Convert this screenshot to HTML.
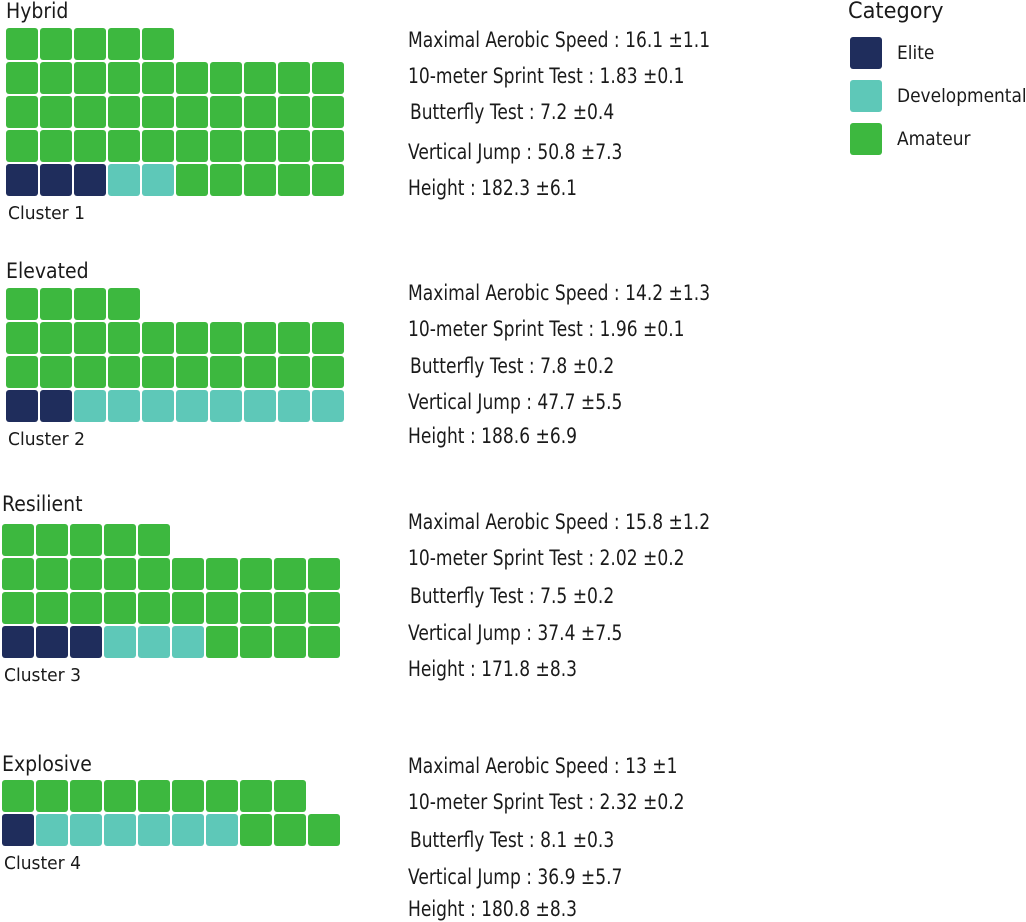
<!DOCTYPE html>
<html><head><meta charset="utf-8">
<style>
html,body{margin:0;padding:0;background:#fff;}
body{width:1026px;height:922px;position:relative;overflow:hidden;font-family:"DejaVu Sans","Liberation Sans",sans-serif;color:#1a1a1a;}
.t{position:absolute;white-space:nowrap;line-height:1;transform-origin:0 0;}
.cell{position:absolute;border-radius:3px;}
</style></head>
<body>
<div id="root"></div>
<script>
// Data arrays
const clusterNames = ["Hybrid","Elevated","Resilient","Explosive"];
const clusterLabels = ["Cluster 1","Cluster 2","Cluster 3","Cluster 4"];
const eliteCounts = [3,2,3,1];
const devCounts = [2,8,3,6];
const amateurCounts = [40,24,29,12];
const categories = ["Elite","Developmental","Amateur"];
const metricNames = ["Maximal Aerobic Speed","10-meter Sprint Test","Butterfly Test","Vertical Jump","Height"];
const metricMeans = [["16.1","1.83","7.2","50.8","182.3"],["14.2","1.96","7.8","47.7","188.6"],["15.8","2.02","7.5","37.4","171.8"],["13","2.32","8.1","36.9","180.8"]];
const metricSds = [["1.1","0.1","0.4","7.3","6.1"],["1.3","0.1","0.2","5.5","6.9"],["1.2","0.2","0.2","7.5","8.3"],["1","0.2","0.3","5.7","8.3"]];

// layout
const colors = ["#1f2d5c","#5ec8b8","#3db83f"];
const gridX = [6,6,2,2];
const gridBottom = [196,422,658,846];
const titleY = [1,261,494,754];
const metricY = [[31,67,103,143,179],[284,320,357,393,427],[513,549,587,624,660],[757,793,831,868,900]];
const metricX = [[408,408,410,408,408],[408,408,410,408,408],[408,408,410,408,408],[408,408,410,408,408]];
const pitch = 34, size = 32, cols = 10;

const root = document.getElementById('root');
function txt(s, x, y, fs, sx, name){
  const d = document.createElement('div');
  d.className = 't';
  d.textContent = s;
  d.style.left = x+'px'; d.style.top = y+'px'; d.style.fontSize = fs+'px';
  d.style.transform = 'scaleX(' + sx + ')';
  
  
  root.appendChild(d);
  return d;
}
for (let c = 0; c < clusterNames.length; c++) {
  txt(clusterNames[c], gridX[c], titleY[c], 21, 0.9, 'cluster-title');
  const counts = [eliteCounts[c], devCounts[c], amateurCounts[c]];
  let i = 0;
  for (let k = 0; k < 3; k++) {
    for (let n = 0; n < counts[k]; n++) {
      const col = i % cols, row = Math.floor(i / cols);
      const el = document.createElement('div');
      el.className = 'cell';
      el.style.left = (gridX[c] + col * pitch) + 'px';
      el.style.top = (gridBottom[c] - size - row * pitch) + 'px';
      el.style.width = size + 'px'; el.style.height = size + 'px';
      el.style.background = colors[k];
      
      
      root.appendChild(el);
      i++;
    }
  }
  txt(clusterLabels[c], gridX[c] + 2, gridBottom[c] + 9, 18, 0.95, 'cluster-label');
  for (let m = 0; m < metricNames.length; m++) {
    const sep = (m == 3 && c >= 2) ? " :  " : " : ";
    txt(metricNames[m] + sep + metricMeans[c][m] + " \u00b1" + metricSds[c][m], metricX[c][m], metricY[c][m] - 1, 21, 0.814, 'metric-stat');
  }
}
// legend
txt("Category", 848, 1, 22, 0.95, 'legend-title');
const legY = [37, 80, 123];
for (let k = 0; k < 3; k++) {
  const s = document.createElement('div');
  s.className = 'cell';
  s.style.left = '850px'; s.style.top = legY[k] + 'px';
  s.style.width = '32px'; s.style.height = '32px';
  s.style.background = colors[k];
  
  
  root.appendChild(s);
  txt(categories[k], 897, legY[k] + 7, 19, 0.895, 'legend-entry');
}
</script>
</body></html>
